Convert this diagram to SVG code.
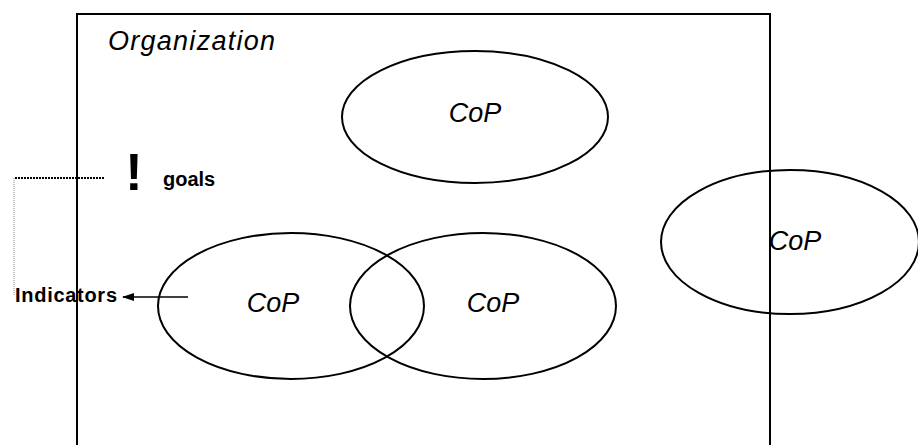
<svg xmlns="http://www.w3.org/2000/svg" width="918" height="445" viewBox="0 0 918 445">
<style>
.e{fill:none;stroke:#000;stroke-width:2}
.t{font-family:"Liberation Sans",Arial,sans-serif;font-style:italic;font-size:27px;fill:#000}
.b{font-family:"Liberation Sans",Arial,sans-serif;font-weight:bold;font-size:20px;fill:#000}
</style>
<defs>
<marker id="ah" markerWidth="12" markerHeight="8" refX="11" refY="4" orient="auto" markerUnits="userSpaceOnUse">
<path d="M0,0 L12,4 L0,8 Z" fill="#000"/>
</marker>
</defs>
<g id="organization">
<path d="M77,445 L77,14 L770,14 L770,445" fill="none" stroke="#000" stroke-width="2"/>
<text class="t" x="108" y="50" textLength="167" lengthAdjust="spacing">Organization</text>
</g>
<g id="cop-top">
<ellipse class="e" cx="475" cy="117" rx="133" ry="66"/>
<text class="t" x="475" y="122" text-anchor="middle">CoP</text>
</g>
<g id="cop-right">
<ellipse class="e" cx="790" cy="242" rx="129" ry="72"/>
<text class="t" x="795" y="250" text-anchor="middle">CoP</text>
</g>
<g id="cop-left">
<ellipse class="e" cx="291" cy="306" rx="133" ry="73"/>
<text class="t" x="273" y="312" text-anchor="middle">CoP</text>
</g>
<g id="cop-mid">
<ellipse class="e" cx="483" cy="306" rx="133" ry="73"/>
<text class="t" x="493" y="312" text-anchor="middle">CoP</text>
</g>
<g id="goals">
<text x="134" y="190" text-anchor="middle" font-family="Liberation Sans,Arial,sans-serif" font-weight="bold" font-size="52">!</text>
<text class="b" x="163" y="186">goals</text>
</g>
<g id="indicators">
<text class="b" x="15" y="302" font-size="21" textLength="102" lengthAdjust="spacing">Indicators</text>
</g>
<g id="connectors">
<line x1="188" y1="297" x2="123" y2="297" stroke="#000" stroke-width="1.3" marker-end="url(#ah)"/>
<line x1="15" y1="178" x2="104" y2="178" stroke="#000" stroke-width="2" stroke-dasharray="2,1"/>
<line x1="14" y1="178" x2="14" y2="296" stroke="#888" stroke-width="1" stroke-dasharray="1,1"/>
</g>
</svg>
